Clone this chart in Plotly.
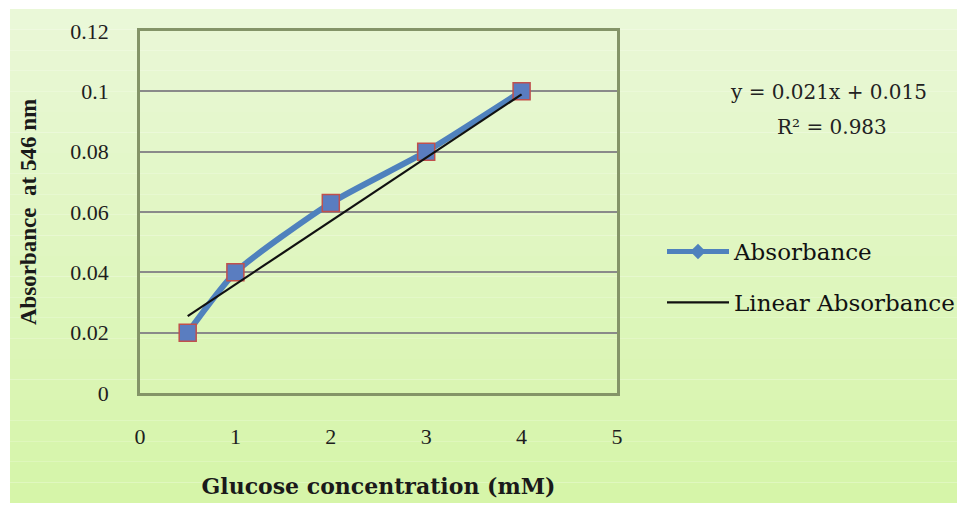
import plotly.graph_objects as go

# Data
glucose_mM = [0.5, 1, 2, 3, 4]
absorbance = [0.02, 0.04, 0.063, 0.08, 0.1]
fit_slope = 0.021
fit_intercept = 0.015
fit_r2 = 0.983
x_ticks = [0, 1, 2, 3, 4, 5]
y_ticks = [0, 0.02, 0.04, 0.06, 0.08, 0.1, 0.12]
y_tick_labels = ["0", "0.02", "0.04", "0.06", "0.08", "0.1", "0.12"]

fit_x = [glucose_mM[0], glucose_mM[-1]]
fit_y = [fit_slope * v + fit_intercept for v in fit_x]

SERIF = "Liberation Serif, Times New Roman, serif"
WIDE = "DejaVu Serif, serif"
BLUE = "#4F81BD"

fig = go.Figure()
fig.add_trace(go.Scatter(
    x=glucose_mM, y=absorbance, name="Absorbance", mode="lines+markers",
    line=dict(color=BLUE, width=6, shape="spline", smoothing=0.6),
    marker=dict(symbol="square", size=17, color="#5A7DC0",
                line=dict(color="#C0504D", width=1.5)),
    showlegend=False,
))
# legend entry (Excel shows a diamond marker in the legend)
fig.add_trace(go.Scatter(
    x=[None], y=[None], name="Absorbance", mode="lines+markers",
    line=dict(color=BLUE, width=5),
    marker=dict(symbol="diamond", size=12, color=BLUE),
    legendgroup="a",
))
fig.add_trace(go.Scatter(
    x=fit_x, y=fit_y, name="Linear Absorbance", mode="lines",
    line=dict(color="#111111", width=2.2),
    legendgroup="b",
))

# light green gradient background (bands)
n = 24
top = (0xEA, 0xF8, 0xD8)
bot = (0xD6, 0xF5, 0xA9)
x0p, x1p = (10 - 140) / 477, (957 - 140) / 477
y_top, y_bot = (393 - 9) / 362, (393 - 503) / 362
for i in range(n):
    t = i / (n - 1)
    c = tuple(int(top[k] + (bot[k] - top[k]) * t) for k in range(3))
    ya = y_top + (y_bot - y_top) * i / n
    yb = y_top + (y_bot - y_top) * (i + 1) / n
    fig.add_shape(type="rect", xref="paper", yref="paper", x0=x0p, x1=x1p,
                  y0=yb, y1=ya, fillcolor="rgb(%d,%d,%d)" % c,
                  line=dict(width=0), layer="below")

fig.add_annotation(xref="paper", yref="paper", x=(828 - 140) / 477, y=(393 - 92) / 362,
                   xanchor="center", yanchor="middle",
                   text="y = %.3fx + %.3f" % (fit_slope, fit_intercept), showarrow=False,
                   font=dict(family=WIDE, size=20, color="#222"))
fig.add_annotation(xref="paper", yref="paper", x=(832 - 140) / 477, y=(393 - 127) / 362,
                   xanchor="center", yanchor="middle",
                   text="R² = %.3f" % fit_r2, showarrow=False,
                   font=dict(family=WIDE, size=20, color="#222"))

fig.update_layout(
    width=960, height=507,
    margin=dict(l=140, r=343, t=31, b=114, autoexpand=False),
    paper_bgcolor="white", plot_bgcolor="white",
    font=dict(family=SERIF, size=22, color="#1e1e1e"),
    legend=dict(x=(662 - 140) / 477, y=(393 - 230) / 362, xanchor="left", yanchor="top",
                bgcolor="rgba(0,0,0,0)", tracegroupgap=18, itemwidth=62,
                font=dict(family=WIDE, size=23, color="#111")),
    xaxis=dict(range=[0, 5], tickvals=x_ticks, showgrid=False, zeroline=False,
               showline=True, linecolor="#849468", linewidth=2.5, mirror=True,
               ticks="outside", ticklen=0, ticklabelstandoff=22,
               title=dict(text="Glucose concentration (mM)", standoff=31,
                          font=dict(family=WIDE, size=22, weight="bold", color="#1a1a1a"))),
    yaxis=dict(range=[0, 0.12], tickvals=y_ticks, ticktext=y_tick_labels,
               showgrid=True, gridcolor="#8a8a8a", gridwidth=1.5, zeroline=False,
               showline=True, linecolor="#849468", linewidth=2.5, mirror=True,
               ticks="outside", ticklen=0, ticklabelstandoff=24,
               title=dict(text="Absorbance  at 546 nm", standoff=28,
                          font=dict(family=SERIF, size=23, weight="bold", color="#1a1a1a"))),
)

fig.write_html("out.html", config={"displayModeBar": False},
               post_script="document.body.style.margin='0px';")
